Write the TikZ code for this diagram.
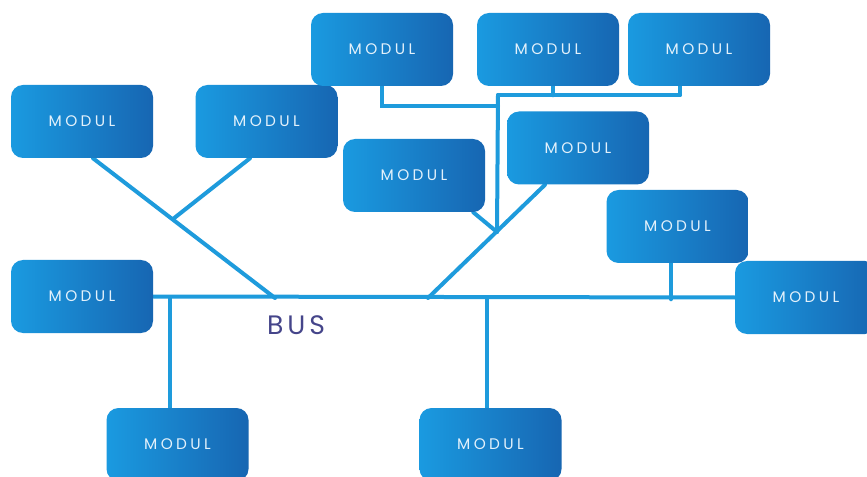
\documentclass[tikz,border=0pt]{standalone}
\usepackage{fontspec}
\setmainfont{Poppins}
\usetikzlibrary{calc}
\pgfdeclarelayer{background}
\pgfsetlayers{background,main}
\definecolor{busline}{HTML}{1E9BDC}
\definecolor{boxleft}{HTML}{1A9AE0}
\definecolor{boxright}{HTML}{1766B2}
\definecolor{boxtext}{HTML}{E3F1FB}
\definecolor{buslabel}{HTML}{45458A}
\tikzset{
  modul/.style={rectangle, rounded corners=9pt, minimum width=106.5pt,
    minimum height=54.75pt, left color=boxleft, right color=boxright,
    draw=none, text=boxtext, inner sep=0pt,
    font=\fontsize{11.5}{13}\selectfont\addfontfeatures{LetterSpace=22}},
  wire/.style={draw=busline, line width=3pt, line cap=round},
}
\begin{document}
\begin{tikzpicture}[x=0.75pt, y=-0.75pt]
\useasboundingbox (0,0) rectangle (867,477);

% modules
\node[modul] (m1)  at (82,121.5)    {MODUL};
\node[modul] (m2)  at (266.5,121.5) {MODUL};
\node[modul] (m3)  at (382,49.5)    {MODUL};
\node[modul] (m4)  at (548,49.5)    {MODUL};
\node[modul] (m5)  at (699,49.5)    {MODUL};
\node[modul] (m6)  at (414,175.5)   {MODUL};
\node[modul] (m7)  at (578,148)     {MODUL};
\node[modul] (m8)  at (677.5,226.5) {MODUL};
\node[modul] (m9)  at (806,297.5)   {MODUL};
\node[modul] (m10) at (82,296.5)    {MODUL};
\node[modul] (m11) at (177.5,444.5) {MODUL};
\node[modul] (m12) at (490.5,444.5) {MODUL};

\node[text=buslabel, font=\fontsize{20}{24}\selectfont\addfontfeatures{LetterSpace=15}]
  (buslbl) at (296,325) {BUS};

% junction points of the bus and its branches
\coordinate (b1) at (275,298);
\coordinate (b2) at (428,298);
\coordinate (j1) at (173,219);
\coordinate (j2) at (497,232);
\coordinate (top) at (498,95);
\coordinate (mid) at (498,106);
\coordinate (t5) at (680,95);

% page, bus and branches, behind the modules
\begin{pgfonlayer}{background}
\fill[white] (0,0) rectangle (867,477);
\path[wire] (m10.east) -- (m9.west);
\path[wire] ($(m1.south)+(11,0)$) -- (b1);
\path[wire] ($(m2.south)+(-16.5,0)$) -- (j1);
\path[wire] (b2) -- ($(m7.south)+(-33,0)$);
\path[wire] ($(m6.south east)+(-12,0)$) -- (j2);
\path[wire] (j2) -- (top);
\path[wire] (m3.south) |- (mid);
\path[wire] (top) -- (t5);
\path[wire] ($(m4.south)+(5,0)$) -- ++(0,9);
\path[wire] (t5) -- (m5.south -| t5);
\path[wire] ($(m8.south)+(-6.5,0)$) -- ++(0,36);
\path[wire] (170,298) -- (m11.north -| 170,0);
\path[wire] (487,298) -- (m12.north -| 487,0);
\end{pgfonlayer}
\end{tikzpicture}
\end{document}
